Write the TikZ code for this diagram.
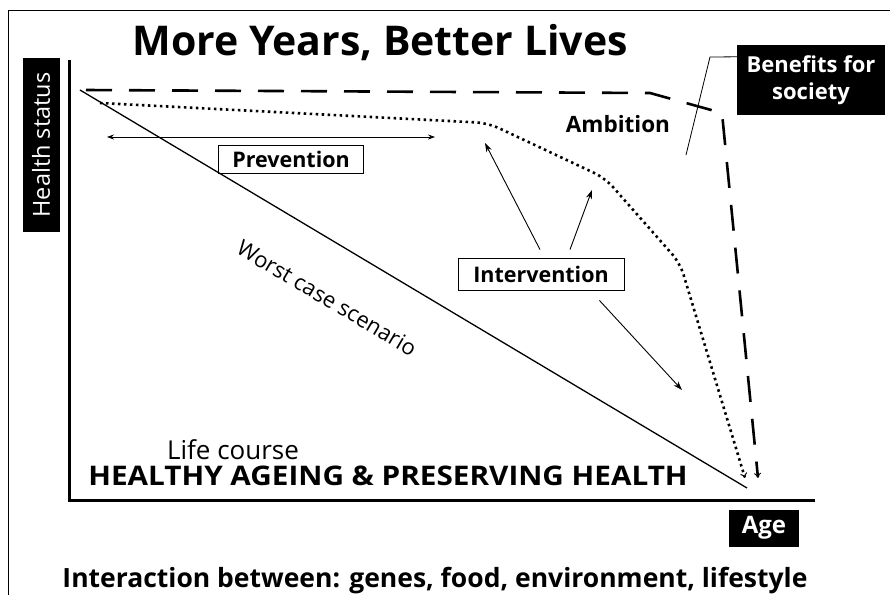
\documentclass[tikz,border=0pt]{standalone}
\usepackage{fontspec}
\setmainfont{Open Sans}
\usetikzlibrary{
    arrows.meta,
    positioning,
}

\tikzset{
  inkbox/.style={fill=black, text=white, inner sep=0pt,
    font=\bfseries\fontsize{22}{27}\selectfont, align=center},
  framebox/.style={draw, line width=0.9pt, inner sep=0pt,
    font=\bfseries\fontsize{21.5}{24}\selectfont},
  pointer/.style={line width=0.9pt, -{Stealth[length=9pt,width=6pt]}},
  ambition/.style={line width=2.6pt, dash pattern=on 26pt off 17pt,
    -{To[length=5pt,width=7pt,line width=1pt]}},
  hopeful/.style={line width=2.6pt, dash pattern=on 2.5pt off 3.5pt,
    -{To[length=5pt,width=7pt,line width=1pt]}},
}

\begin{document}
\begin{tikzpicture}[x=1pt,y=-1pt]
  \useasboundingbox (0,0) rectangle (892,595);
  \draw [line width=1pt] (8,595) -- (8,10) -- (890,10);

  \node [anchor=base, font=\bfseries\fontsize{41}{46}\selectfont] (title) at (380,55) {More Years, Better Lives};
  \node [inkbox, rotate=90, minimum width=174pt, minimum height=37pt,
         font=\fontsize{23.5}{28}\selectfont] (health) at (41,145) {Health status};
  \node [inkbox, minimum width=148pt, minimum height=70pt] (benefit) at (811,80) {Benefits for\\society};
  \node [inkbox, minimum width=70pt, minimum height=37pt, font=\bfseries\fontsize{24}{28}\selectfont] (age) at (764,528) {Age};

  \draw [line width=3pt] (69,60) -- (69,500) -- (815,500);

  \coordinate (start) at (80,90);
  \coordinate (death) at (747,488);
  \draw [line width=1.3pt] (start) -- (death);
  \draw [ambition] (86,90) -- (650,93) -- (722,113) -- (758,478);
  \draw [hopeful, rounded corners=12pt] (100,103) -- (488,123) -- (605,178) -- (680,263) -- (745,478);

  \node [rotate=-30.6, font=\fontsize{22}{26}\selectfont] (worst) at (327,298) {Worst case scenario};
  \node [anchor=base, font=\bfseries\fontsize{22.5}{26}\selectfont] (ambit) at (618,132) {Ambition};

  \coordinate (prevL) at (107,137);
  \coordinate (prevR) at (435,137);
  \draw [line width=0.8pt, {Stealth[length=7pt,width=5pt]}-{Stealth[length=7pt,width=5pt]}] (prevL) -- (prevR);
  \node [framebox, minimum width=145pt, minimum height=28pt] (prevent) at (291,159) {Prevention};

  \node [framebox, minimum width=166pt, minimum height=32pt] (interv) at (541,274) {Intervention};
  \coordinate (tipA) at (485,143);
  \coordinate (tipB) at (592,190);
  \coordinate (tipC) at (682,390);
  \draw [pointer] ([shift={(-1,-8)}]interv.north) -- (tipA);
  \draw [pointer] ([shift={(29,-8)}]interv.north) -- (tipB);
  \draw [pointer] ([shift={(-25,10)}]interv.south east) -- (tipC);

  \coordinate (knee) at (710,57);
  \coordinate (foot) at (686,155);
  \draw [line width=0.8pt] ([yshift=-12pt]benefit.north west) -- (knee) -- (foot);

  \node [anchor=base, font=\fontsize{26}{30}\selectfont] (course) at (233,459) {Life course};
  \node [anchor=base, font=\bfseries\fontsize{27}{32}\selectfont] (ageing) at (388,485) {\scalebox{1.1}[1]{HEALTHY AGEING \& PRESERVING HEALTH}};
  \node [anchor=base, font=\bfseries\fontsize{26.5}{30}\selectfont] (caption) at (435,587) {Interaction between: genes, food, environment, lifestyle};
\end{tikzpicture}
\end{document}
